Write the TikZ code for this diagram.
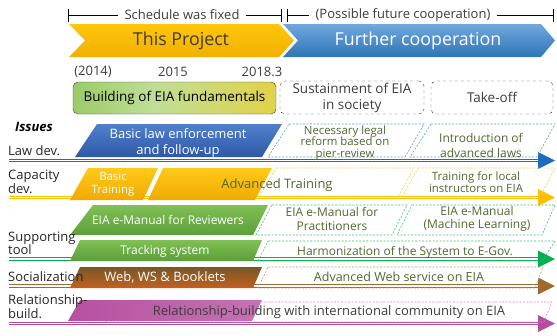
\documentclass[tikz,border=0pt]{standalone}
\usepackage{fontspec}
\setmainfont{Open Sans}
\usetikzlibrary{arrows.meta}
\definecolor{gold1}{RGB}{255,198,10}
\definecolor{gold2}{RGB}{242,176,0}
\definecolor{sky1}{RGB}{112,168,222}
\definecolor{sky2}{RGB}{46,117,182}
\definecolor{law1}{RGB}{80,128,204}
\definecolor{law2}{RGB}{47,88,168}
\definecolor{lawc}{RGB}{30,108,190}
\definecolor{lawd}{RGB}{91,155,213}
\definecolor{cap1}{RGB}{255,202,24}
\definecolor{cap2}{RGB}{240,170,0}
\definecolor{capc}{RGB}{255,190,0}
\definecolor{capd}{RGB}{255,200,80}
\definecolor{tool1}{RGB}{128,192,84}
\definecolor{tool2}{RGB}{92,158,58}
\definecolor{toolc}{RGB}{0,176,80}
\definecolor{toold}{RGB}{60,190,110}
\definecolor{soc1}{RGB}{118,88,40}
\definecolor{soc2}{RGB}{196,96,30}
\definecolor{socc}{RGB}{160,105,45}
\definecolor{socd}{RGB}{205,150,100}
\definecolor{rel1}{RGB}{182,80,160}
\definecolor{relc}{RGB}{180,76,160}
\definecolor{reld}{RGB}{222,130,200}
\definecolor{olivetxt}{RGB}{78,104,48}
\definecolor{darktxt}{RGB}{60,60,60}
\definecolor{fg1}{RGB}{108,180,48}
\definecolor{fg2}{RGB}{192,222,150}
\definecolor{fg3}{RGB}{226,210,72}
\definecolor{fg4}{RGB}{246,186,10}
\pgfdeclarehorizontalshading{fundshade}{100bp}{color(0bp)=(fg1); color(45bp)=(fg2); color(75bp)=(fg3); color(100bp)=(fg4)}
\tikzset{
  txt/.style = {inner sep=0pt, align=center, font=\fontsize{12}{13.5}\selectfont},
  top_t/.style = {txt, inner xsep=6pt, text=darktxt, font=\fontsize{13}{15}\selectfont},% bracket text
  chev_t/.style = {txt, font=\fontsize{17.8}{20}\selectfont},% chevron text
  yr/.style = {txt, text=darktxt, font=\fontsize{13}{15}\selectfont},
  fund_box/.style = {txt, draw=darktxt, rounded corners=5pt, shading=fundshade,
    minimum width=203pt, minimum height=32pt, font=\fontsize{13.5}{15}\selectfont},
  goal_box/.style = {txt, draw=darktxt, dashed, rounded corners=5pt,
    minimum height=33pt, text=darktxt, font=\fontsize{13.5}{16}\selectfont},
  bar_w/.style = {txt, white},% text on a filled bar
  bar_o/.style = {txt, olivetxt},% text in a dashed bar
  row_l/.style = {txt, anchor=west, align=left, text=black!85,
    font=\fontsize{13}{13.5}\selectfont},% issue names
  dash_b/.style = {dash pattern=on 2pt off 1.5pt, line width=0.6pt},
  row_a/.style = {line width=1.2pt, double=white, double distance=1.3pt}
}
\begin{document}
\begin{tikzpicture}[x=1pt,y=-1pt]
  \useasboundingbox (0,0) rectangle (557,335);
  % schedule bracket
  \node [top_t] (sched) at (182,15) {Schedule was fixed};
  \node [top_t] (poss) at (403,15) {(Possible future cooperation)};
  \coordinate (t0) at (68,15);
  \coordinate (t1) at (281,15);
  \coordinate (t2) at (287,15);
  \coordinate (t3) at (553,15);
  \draw [{Bar[width=13pt]}-] (t0) -- (sched.west);
  \draw [-{Bar[width=13pt]}] (sched.east) -- (t1);
  \draw [{Bar[width=13pt]}-] (t2) -- (poss.west);
  \draw [-{Bar[width=13pt]}] (poss.east) -- (t3);

  % chevrons
  \shade [top color=gold1, bottom color=gold2] (69,24) -- (279,24) -- (294,40.5)
    -- (279,57) -- (69,57) -- (85,40.5) -- cycle;
  \node [chev_t, text=darktxt] (proj) at (181,41) {This Project};
  \shade [top color=sky1, bottom color=sky2] (283,24) -- (541,24) -- (555,40.5)
    -- (541,57) -- (283,57) -- (298,40.5) -- cycle;
  \node [chev_t, white] (furt) at (418,41) {Further cooperation};

  \node [yr] (y1) at (93,72) {(2014)};
  \node [yr] (y2) at (173,72) {2015};
  \node [yr] (y3) at (262,72) {2018.3};

  \node [fund_box] (fund) at (174.5,98) {Building of EIA fundamentals};
  \node [goal_box, minimum width=144pt] (sust) at (352,97.5) {Sustainment of EIA\\in society};
  \node [goal_box, minimum width=122pt] (take) at (492,97.5) {Take-off};

  \node [txt, font=\fontsize{13}{15}\selectfont\bfseries\itshape] (iss) at (34,127) {Issues};

  % row arrows
  \foreach \n/\c/\y in {1/lawc/160.5, 2/capc/197.5, 3/toolc/259, 4/socc/286, 5/relc/323.5} {
    \coordinate (a\n) at (9,\y);
    \coordinate (b\n) at (538,\y);
    \draw [row_a, draw=\c] (a\n) -- (b\n);
    \fill [\c] ([yshift=-8.5pt]b\n) -- ([xshift=17pt]b\n) -- ([yshift=8.5pt]b\n) -- cycle;
  }

  % law dev.
  \shade [top color=law1, bottom color=law2] (97,124) -- (282,124) -- (262,157) -- (75,157) -- cycle;
  \node [bar_w, font=\fontsize{13}{16}\selectfont] (l1) at (178,143) {Basic law enforcement\\and follow-up};
  \draw [dash_b, lawd] (289,124) -- (424,124) -- (405,157) -- (268,157) -- cycle;
  \node [bar_o, font=\fontsize{11.4}{11.5}\selectfont] (l2) at (345,143) {Necessary legal\\reform based on\\pier-review};
  \draw [dash_b, lawd] (431,124) -- (555,124) -- (537,157) -- (410,157) -- cycle;
  \node [bar_o, font=\fontsize{12}{15}\selectfont] (l3) at (481,145) {Introduction of\\advanced laws};

  % capacity dev.
  \shade [top color=cap1, bottom color=cap2] (88,168) -- (158,168) -- (143,200) -- (70,200) -- cycle;
  \node [bar_w, font=\fontsize{11.4}{13}\selectfont] (c1) at (113,184) {Basic\\Training};
  \shade [top color=cap1, bottom color=cap2] (163,168) -- (272,168) -- (255,200) -- (148,200) -- cycle;
  \node [bar_o, font=\fontsize{13}{15}\selectfont] (c2) at (277,185) {Advanced Training};
  \draw [dash_b, capd] (276,168) -- (414,168) -- (398,197) -- (259,197) -- cycle;
  \draw [dash_b, capd] (418,168) -- (555,168) -- (540,197) -- (402,197) -- cycle;
  \node [bar_o, font=\fontsize{11.4}{12}\selectfont] (c3) at (476,182) {Training for local\\instructors on EIA};

  % supporting tool
  \shade [top color=tool1, bottom color=tool2] (93,205) -- (268,205) -- (253,235) -- (70,235) -- cycle;
  \node [bar_w] (s1) at (168,220) {EIA e-Manual for Reviewers};
  \draw [dash_b, toold] (272,205) -- (407,205) -- (392,235) -- (256,235) -- cycle;
  \node [bar_o] (s2) at (332,219) {EIA e-Manual for\\Practitioners};
  \draw [dash_b, toold] (412,205) -- (555,205) -- (542,235) -- (397,235) -- cycle;
  \node [bar_o] (s3) at (477,219) {EIA e-Manual\\(Machine Learning)};
  \shade [top color=tool1, bottom color=tool2] (80,240) -- (262,240) -- (253,261) -- (70,261) -- cycle;
  \node [bar_w] (s4) at (165,251) {Tracking system};
  \draw [dash_b, toold] (268,241) -- (555,241) -- (542,261) -- (258,261) -- cycle;
  \node [bar_o] (s5) at (405,252) {Harmonization of the System to E-Gov.};

  % socialization
  \shade [top color=soc1, bottom color=soc2] (80,267) -- (262,267) -- (253,288) -- (70,288) -- cycle;
  \node [bar_w, font=\fontsize{13}{15}\selectfont] (w1) at (165,277) {Web, WS \& Booklets};
  \draw [dash_b, socd] (268,267) -- (543,267) -- (535,288) -- (258,288) -- cycle;
  \node [bar_o, font=\fontsize{12.5}{15}\selectfont] (w2) at (399,277) {Advanced Web service on EIA};

  % relationship-build.
  \draw [dash_b, reld] (117,302) -- (552,302) -- (544,322) -- (105,322) -- cycle;
  \shade [left color=rel1, right color=rel1!80!white] (80,300) -- (262,300) -- (252,321) -- (68,321) -- cycle;
  \node [txt, darktxt, font=\fontsize{13}{15}\selectfont] (r1) at (329,312) {Relationship-building with international community on EIA};

  % issue names
  \node [row_l] (n1) at (8,151) {Law dev.};
  \node [row_l] (n2) at (8,182) {Capacity\\dev.};
  \node [row_l] (n3) at (8,243.5) {Supporting\\tool};
  \node [row_l] (n4) at (8,277) {Socialization};
  \node [row_l] (n5) at (8,306.5) {Relationship-\\build.};
\end{tikzpicture}
\end{document}
